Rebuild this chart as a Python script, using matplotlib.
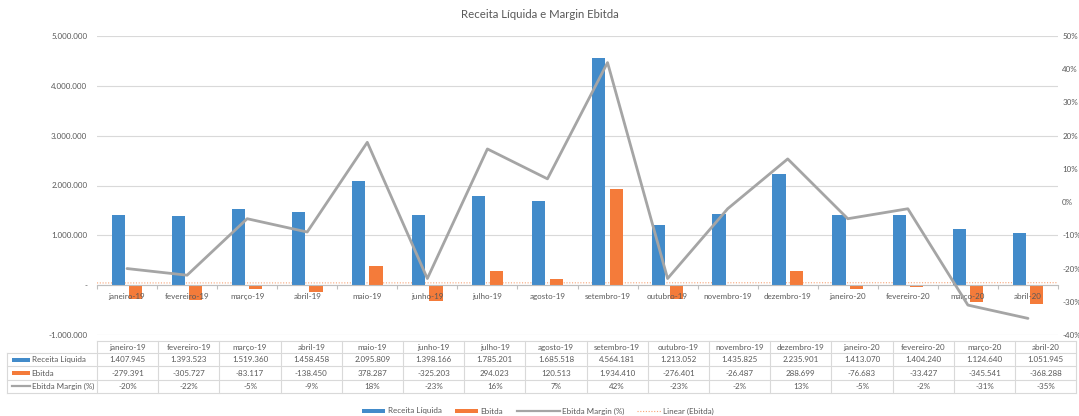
import numpy as np
import matplotlib
matplotlib.use("Agg")
import matplotlib.pyplot as plt
from matplotlib.patches import Rectangle

plt.rcParams['font.family'] = ['Lato', 'DejaVu Sans']

months = ["janeiro-19", "fevereiro-19", "março-19", "abril-19", "maio-19", "junho-19",
          "julho-19", "agosto-19", "setembro-19", "outubro-19", "novembro-19", "dezembro-19",
          "janeiro-20", "fevereiro-20", "março-20", "abril-20"]
receita = [1407945, 1393523, 1519360, 1458458, 2095809, 1398166, 1785201, 1685518,
           4564181, 1213052, 1435825, 2235901, 1413070, 1404240, 1124640, 1051945]
ebitda = [-279391, -305727, -83117, -138450, 378287, -325203, 294023, 120513,
          1934410, -276401, -26487, 288699, -76683, -33427, -345541, -368288]
margin = [-20, -22, -5, -9, 18, -23, 16, 7, 42, -23, -2, 13, -5, -2, -31, -35]
left_ticks = [-1000000, 0, 1000000, 2000000, 3000000, 4000000, 5000000]
right_ticks = [-40, -30, -20, -10, 0, 10, 20, 30, 40, 50]

BLUE = '#428BCA'
ORANGE = '#F47B3A'
GRAY = '#A5A5A5'
TXT = '#595959'
GRID = '#D9D9D9'
FS = 5.8

W, H = 1079, 416
fig = plt.figure(figsize=(W / 100, H / 100), dpi=100)

def fx(px):
    return px / W

def fy(py):
    return 1 - py / H

L, R, T, B = 97, 1058, 36, 335
ax = fig.add_axes([fx(L), fy(B), fx(R - L), (B - T) / H])
x = np.arange(len(months))

ax.bar(x - 0.145, receita, width=0.22, color=BLUE, zorder=2)
ax.bar(x + 0.145, ebitda, width=0.22, color=ORANGE, zorder=2)

# linear trend of Ebitda
coef = np.polyfit(x, ebitda, 1)
xt = np.array([-0.5, len(months) - 0.5])
ax.plot(xt, np.polyval(coef, xt), color=ORANGE, lw=0.8, ls=(0, (1, 1.5)), alpha=0.7, zorder=1.5)

ax.set_xlim(-0.5, len(months) - 0.5)
ax.set_ylim(-1000000, 5000000)
ax.set_yticks(left_ticks)
ax.set_yticklabels(['-' if v == 0 else f"{v:,}".replace(',', '.') for v in left_ticks])
ax.tick_params(axis='y', length=0, pad=7, labelsize=FS, labelcolor=TXT)
ax.grid(axis='y', color=GRID, lw=0.8, zorder=0)
ax.set_axisbelow(True)
for s in ['top', 'left', 'right']:
    ax.spines[s].set_visible(False)
ax.spines['bottom'].set_position(('data', 0))
ax.spines['bottom'].set_color('#BFBFBF')
ax.spines['bottom'].set_linewidth(0.8)
ax.set_xticks(x)
ax.set_xticklabels([])
ax.set_xticks(np.arange(-0.5, len(months), 1), minor=True)
ax.tick_params(axis='x', which='major', length=0)
ax.tick_params(axis='x', which='minor', length=3, color='#BFBFBF', width=0.8)
# category labels drawn above the bars, like the reference
for i, m in enumerate(months):
    ax.annotate(m, xy=(i, 0), xytext=(0, -8), textcoords='offset points',
                ha='center', va='center', fontsize=FS, color=TXT, zorder=5,
                annotation_clip=False)

ax2 = ax.twinx()
ax2.plot(x, margin, color=GRAY, lw=2.0, solid_capstyle='round', zorder=3)
ax2.set_ylim(-40, 50)
ax2.set_yticks(right_ticks)
ax2.set_yticklabels([f"{v}%" for v in right_ticks])
ax2.tick_params(axis='y', length=0, pad=3, labelsize=FS, labelcolor=TXT)
for s in ax2.spines.values():
    s.set_visible(False)

fig.text(0.5, fy(15), "Receita Líquida e Margin Ebitda", ha='center', va='center',
         fontsize=8.2, color=TXT)

# overlay for table and legend (pixel coordinates)
ov = fig.add_axes([0, 0, 1, 1])
ov.set_xlim(0, W)
ov.set_ylim(H, 0)
ov.axis('off')

x0, cw, lab0 = 97, 61.2, 7
rows_y = [341, 353.2, 366.4, 379.6, 392.8]
n = len(months)
x_end = x0 + cw * n
lc = dict(color=GRID, lw=0.8)
ov.plot([x0, x_end], [rows_y[0], rows_y[0]], **lc)
for yy in rows_y[1:]:
    ov.plot([lab0, x_end], [yy, yy], **lc)
ov.plot([lab0, lab0], [rows_y[1], rows_y[-1]], **lc)
for i in range(n + 1):
    xx = x0 + cw * i
    ov.plot([xx, xx], [rows_y[0], rows_y[-1]], **lc)

row_vals = [
    months,
    [f"{v:,}".replace(',', '.') for v in receita],
    [f"{v:,}".replace(',', '.') for v in ebitda],
    [f"{v}%" for v in margin],
]
for r, vals in enumerate(row_vals):
    yc = (rows_y[r] + rows_y[r + 1]) / 2
    for i, t in enumerate(vals):
        ov.text(x0 + cw * (i + 0.5), yc, t, ha='center', va='center', fontsize=FS, color=TXT)

row_labels = ["Receita Líquida", "Ebitda", "Ebitda Margin (%)"]
row_keys = ['bar', 'bar', 'line']
row_cols = [BLUE, ORANGE, GRAY]
for r, (lab, kind, c) in enumerate(zip(row_labels, row_keys, row_cols)):
    yc = (rows_y[r + 1] + rows_y[r + 2]) / 2
    if kind == 'bar':
        ov.add_patch(Rectangle((11.5, yc - 2.2), 18.5, 4.4, color=c, lw=0))
    else:
        ov.plot([11.5, 30], [yc, yc], color=c, lw=1.6)
    ov.text(31.5, yc, lab, ha='left', va='center', fontsize=FS, color=TXT)

# bottom legend
ly = 411
ov.add_patch(Rectangle((362, ly - 2.2), 23, 4.4, color=BLUE, lw=0))
ov.text(388, ly, "Receita Líquida", ha='left', va='center', fontsize=FS, color=TXT)
ov.add_patch(Rectangle((455, ly - 2.2), 22.5, 4.4, color=ORANGE, lw=0))
ov.text(480, ly, "Ebitda", ha='left', va='center', fontsize=FS, color=TXT)
ov.plot([517, 560], [ly, ly], color=GRAY, lw=1.6)
ov.text(562.5, ly, "Ebitda Margin (%)", ha='left', va='center', fontsize=FS, color=TXT)
ov.plot([637, 660.5], [ly, ly], color=ORANGE, lw=0.8, ls=(0, (1, 1.5)), alpha=0.7)
ov.text(663, ly, "Linear (Ebitda)", ha='left', va='center', fontsize=FS, color=TXT)

fig.savefig("out.png", dpi=100, facecolor='white')
